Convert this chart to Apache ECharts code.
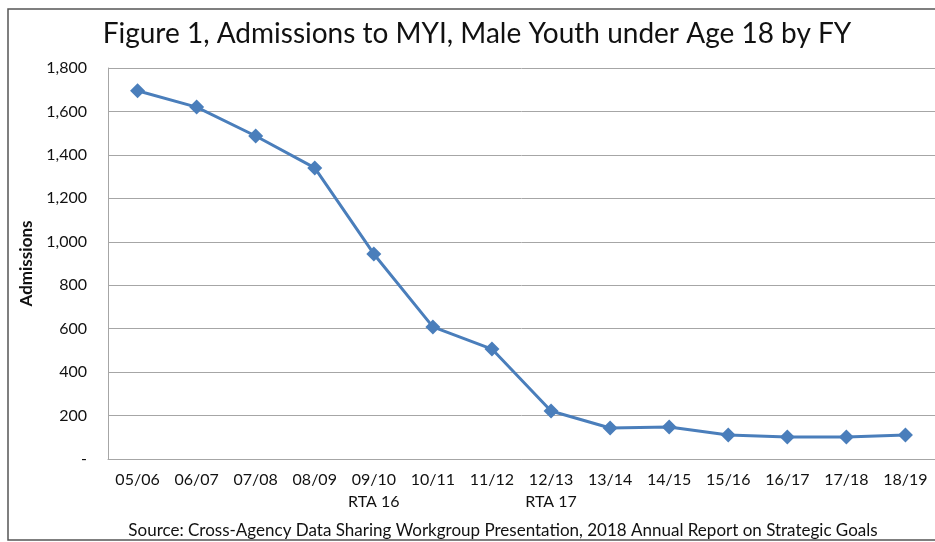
<!DOCTYPE html>
<html>
<head>
<meta charset="utf-8">
<script src="https://cdn.jsdelivr.net/npm/echarts@6/dist/echarts.min.js"></script>
<style>
  html, body { margin: 0; padding: 0; background: #fff; }
  #chart { width: 935px; height: 542px; }
</style>
</head>
<body>
<div id="chart"></div>
<script>
const fiscalYears = ['05/06', '06/07', '07/08', '08/09', '09/10\nRTA 16', '10/11', '11/12',
    '12/13\nRTA 17', '13/14', '14/15', '15/16', '16/17', '17/18', '18/19'];
const admissions = [1695, 1620, 1487, 1340, 944, 608, 506, 221, 143, 147, 110, 101, 101, 110];

const titleText = 'Figure 1, Admissions to MYI, Male Youth under Age 18 by FY';
const sourceText = 'Source: Cross-Agency Data Sharing Workgroup Presentation, 2018 Annual Report on Strategic Goals';

const font = 'Lato, "Open Sans", sans-serif';
const lineColor = '#4a7ebb';
const gridColor = '#a6a6a6';

const myChart = echarts.init(document.getElementById('chart'));

const option = {
    backgroundColor: '#fff',
    animation: false,
    title: [
        {
            text: titleText,
            left: 472,
            textAlign: 'center',
            top: 15,
            textStyle: { fontFamily: font, fontSize: 28, fontWeight: 'normal', color: '#111' }
        },
        {
            text: sourceText,
            left: 498,
            textAlign: 'center',
            top: 517,
            textStyle: { fontFamily: font, fontSize: 17, fontWeight: 'normal', color: '#111' }
        }
    ],
    graphic: [
        {
            // rahmen um das ganze bild, rechts/unten abgeschnitten wie im original
            type: 'rect',
            shape: { x: 8, y: 9, width: 1000, height: 531 },
            style: { fill: 'none', stroke: '#555', lineWidth: 1.5 },
            silent: true
        }
    ],
    grid: { left: 108, right: 0, top: 68, bottom: 83, containLabel: false },
    xAxis: {
        type: 'category',
        data: fiscalYears,
        boundaryGap: true,
        axisLine: { show: true, lineStyle: { color: gridColor, width: 1 } },
        axisTick: { show: false },
        axisLabel: {
            margin: 10,
            fontFamily: font,
            fontSize: 16,
            color: '#111',
            lineHeight: 22,
            interval: 0
        }
    },
    yAxis: {
        type: 'value',
        min: 0,
        max: 1800,
        interval: 200,
        name: 'Admissions',
        nameLocation: 'middle',
        nameGap: 72,
        nameRotate: 90,
        nameTextStyle: { fontFamily: font, fontSize: 17, fontWeight: 'bold', color: '#111' },
        axisLine: { show: true, lineStyle: { color: gridColor, width: 1 } },
        axisTick: { show: false },
        axisLabel: {
            margin: 21,
            fontFamily: font,
            fontSize: 16,
            color: '#111',
            formatter: function (v) {
                return v === 0 ? '-' : v.toLocaleString('en-US');
            }
        },
        splitLine: { lineStyle: { color: gridColor, width: 1 } }
    },
    series: [
        {
            name: 'Admissions',
            type: 'line',
            data: admissions,
            symbol: 'diamond',
            symbolSize: 15,
            lineStyle: { width: 3, color: lineColor },
            itemStyle: { color: lineColor }
        }
    ]
};

myChart.setOption(option);
</script>
</body>
</html>
